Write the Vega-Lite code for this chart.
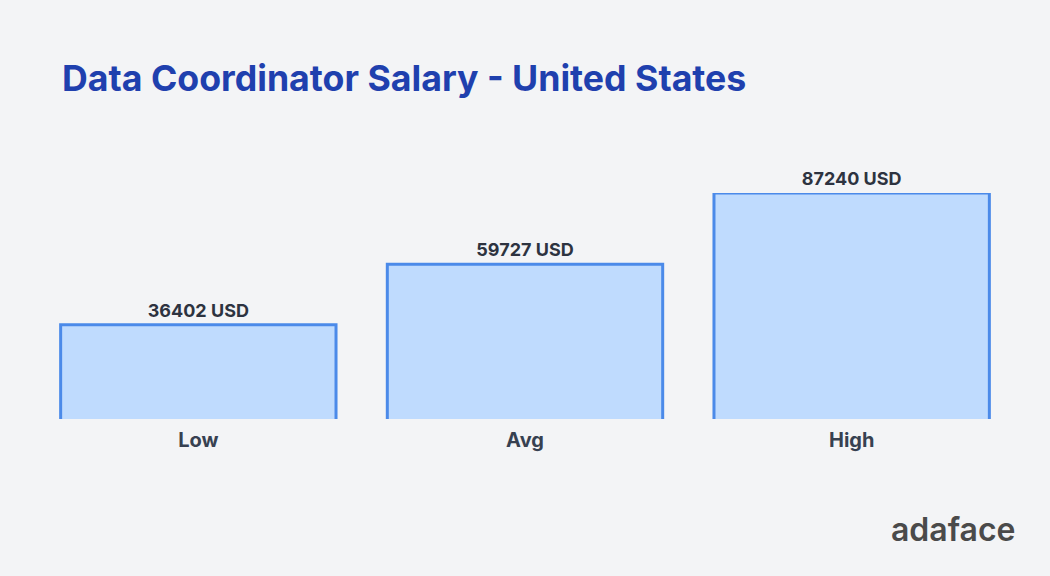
{
  "$schema": "https://vega.github.io/schema/vega-lite/v6.json",
  "autosize": "none",
  "width": 980,
  "height": 226,
  "padding": {"left": 35, "top": 193, "right": 35, "bottom": 157},
  "background": "#f3f4f6",
  "config": {"view": {"stroke": null}},
  "title": {
    "text": "Data Coordinator Salary - United States",
    "anchor": "start",
    "frame": "group",
    "dx": 27,
    "offset": 72,
    "font": "Inter",
    "fontSize": 35.7,
    "fontWeight": 700,
    "color": "#1f40ae"
  },
  "data": {
    "values": [
      {"level": "Low", "salary": 36402},
      {"level": "Avg", "salary": 59727},
      {"level": "High", "salary": 87240}
    ]
  },
  "encoding": {
    "x": {
      "field": "level",
      "type": "nominal",
      "sort": ["Low", "Avg", "High"],
      "scale": {"paddingInner": 0.157, "paddingOuter": 0.0785},
      "axis": {
        "title": "adaface",
        "titleAnchor": "end",
        "titleFont": "Inter",
        "titleFontSize": 32,
        "titleFontWeight": 600,
        "titleColor": "#4a4a4a",
        "titlePadding": 65,
        "labelAngle": 0,
        "labelFont": "Inter",
        "labelFontSize": 20,
        "labelFontWeight": 700,
        "labelColor": "#374151",
        "labelPadding": 11,
        "domain": false,
        "ticks": false
      }
    },
    "y": {
      "field": "salary",
      "type": "quantitative",
      "scale": {"domain": [0, 87240], "nice": false},
      "axis": null
    }
  },
  "layer": [
    {
      "mark": {"type": "bar", "fill": "#bfdbfe", "stroke": "#4b8ae9", "strokeWidth": 3, "clip": true},
      "encoding": {"y2": {"datum": -3000}}
    },
    {
      "mark": {"type": "text", "baseline": "bottom", "dy": -4, "font": "Inter", "fontSize": 18, "fontWeight": 700, "color": "#2d3340"},
      "encoding": {"text": {"field": "label"}},
      "transform": [{"calculate": "datum.salary + ' USD'", "as": "label"}]
    }
  ]
}
